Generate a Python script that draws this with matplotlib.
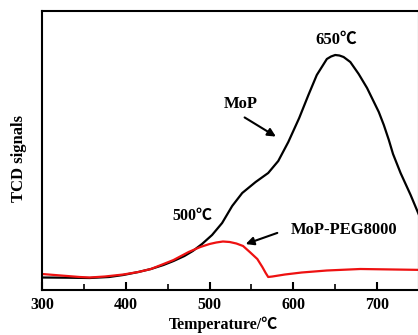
import matplotlib
matplotlib.use('Agg')
import matplotlib.pyplot as plt

plt.rcParams['font.family'] = ['Liberation Serif', 'Noto Sans CJK SC', 'DejaVu Serif']
plt.rcParams['font.weight'] = 'bold'

# MoP (black) TCD signal, arbitrary units
t_mop = [300, 330, 357, 380, 397, 415, 430, 445, 457, 470, 480, 491, 503, 515, 527, 539,
         555, 570, 582, 594, 607, 618, 628, 640, 645, 650, 655, 660, 668, 678, 688, 695,
         702, 708, 714, 719, 728, 740, 750, 765, 780]
s_mop = [12.5, 12.3, 12, 13, 15, 18, 21, 25, 29, 34, 39, 46, 55, 67, 84, 97,
         108, 117, 129, 148, 172, 195, 215, 231, 233.5, 235, 234.5, 233, 228, 216, 202, 190,
         178, 165, 150, 136, 117, 95, 75, 50, 30]

# MoP-PEG8000 (red)
t_peg = [300, 315, 330, 345, 357, 375, 397, 415, 430, 445, 457, 475, 489, 500, 508, 516,
         524, 532, 540, 548, 557, 563, 567, 570, 575, 590, 610, 640, 680, 720, 760]
s_peg = [16, 15, 14, 13, 12.5, 13.5, 15.5, 18, 21, 26, 30, 38, 43, 46, 47.5, 48.5,
         48, 46.5, 44, 38, 31, 23, 17, 13, 13.5, 15.5, 17.5, 19.5, 21, 20.5, 20]

fig = plt.figure(figsize=(4.18, 3.35), dpi=100)
ax = fig.add_axes([42 / 418, 45 / 335, 377 / 418, 279 / 335])

ax.plot(t_mop, s_mop, color='black', lw=1.6, solid_joinstyle='round')
ax.plot(t_peg, s_peg, color='#ee1111', lw=1.6, solid_joinstyle='round')

ax.set_xlim(300, 750)
ax.set_ylim(0, 279)
ax.set_xticks([300, 400, 500, 600, 700])
ax.set_xticks([350, 450, 550, 650, 750], minor=True)
ax.set_yticks([])
ax.tick_params(axis='x', which='major', direction='in', length=6, width=1.5, labelsize=11.5, pad=5)
ax.tick_params(axis='x', which='minor', direction='in', length=4, width=1.2)
for lab in ax.get_xticklabels():
    lab.set_fontweight('bold')
for sp in ax.spines.values():
    sp.set_linewidth(1.5)

ax.set_xlabel('Temperature/℃', fontsize=11.5, fontweight='bold')
ax.xaxis.set_label_coords((223 - 42) / 377, -0.095)
ax.set_ylabel('TCD signals', fontsize=12, fontweight='bold')
ax.yaxis.set_label_coords(-0.04, 0.47)

ax.text(651, 250, '650℃', ha='center', va='center', fontsize=12, fontweight='bold')
ax.text(480, 74, '500℃', ha='center', va='center', fontsize=11.5, fontweight='bold')
ax.text(537, 186, 'MoP', ha='center', va='center', fontsize=12, fontweight='bold')
ax.annotate('', xy=(582, 152), xytext=(539, 174),
            arrowprops=dict(arrowstyle='-|>', color='black', lw=1.5, mutation_scale=12))
ax.text(660, 60, 'MoP-PEG8000', ha='center', va='center', fontsize=12, fontweight='bold')
ax.annotate('', xy=(540, 45), xytext=(584, 58),
            arrowprops=dict(arrowstyle='-|>', color='black', lw=1.5, mutation_scale=12))

fig.savefig('out.png', dpi=100)
